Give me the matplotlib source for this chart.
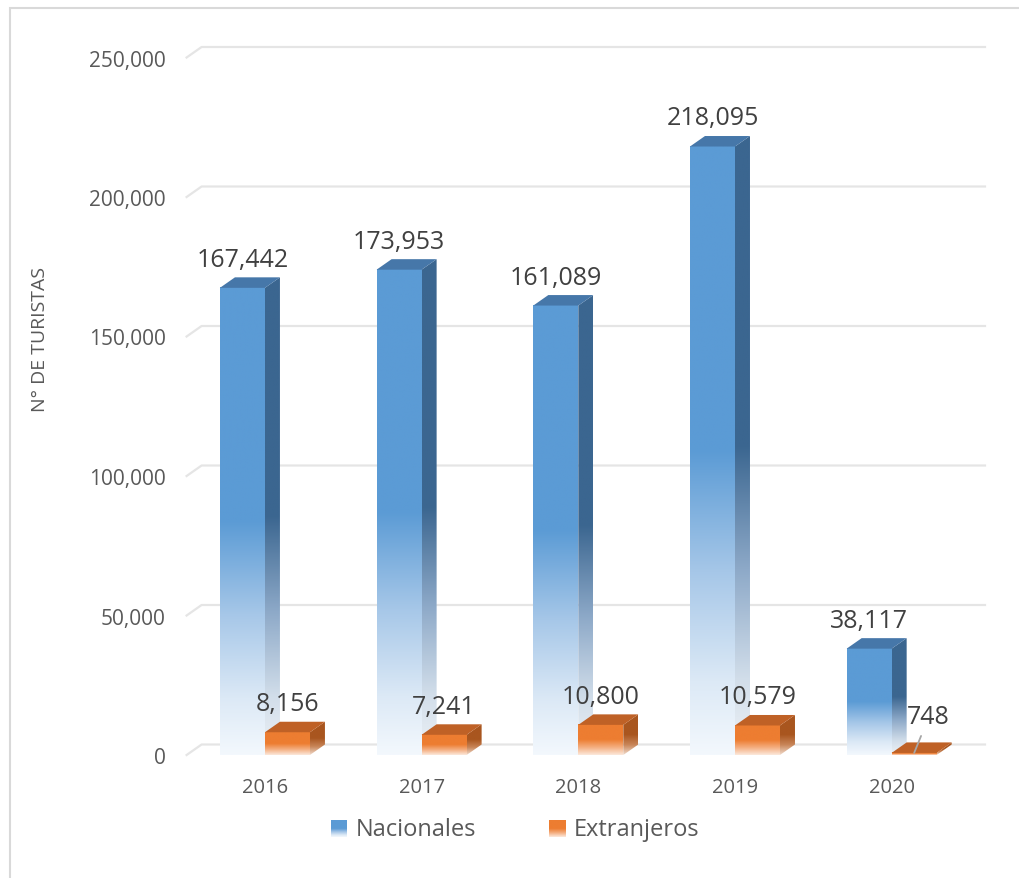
import numpy as np
import matplotlib
matplotlib.use('Agg')
import matplotlib.pyplot as plt
from matplotlib.colors import LinearSegmentedColormap
from matplotlib.patches import Polygon, Rectangle

# ---------------- data ----------------
years = ['2016', '2017', '2018', '2019', '2020']
nacionales = [167442, 173953, 161089, 218095, 38117]
extranjeros = [8156, 7241, 10800, 10579, 748]
series_names = ['Nacionales', 'Extranjeros']
y_ticks = [0, 50000, 100000, 150000, 200000, 250000]
y_label = 'N° DE TURISTAS'

plt.rcParams['font.family'] = ['Open Sans', 'DejaVu Sans']

W, H = 1020, 879
fig = plt.figure(figsize=(W / 100, H / 100), dpi=100)
ax = fig.add_axes([186.6 / W, 1 - 756 / H, (970 - 186.6) / W, (756 - 58.5) / H])
ax.set_xlim(-0.5, len(years) - 0.5)
ax.set_ylim(0, 250000)

fig.canvas.draw()
bb = ax.get_window_extent()
px_x = bb.width / (len(years))
px_y = bb.height / 250000
ddx = 15 / px_x
ddy = 10.5 / px_y
bw = 45 / px_x

def cmap_from(stops, name):
    return LinearSegmentedColormap.from_list(name, stops)

styles = [
    dict(front=cmap_from([(0, '#F3F8FD'), (0.12, '#DCE9F6'), (0.3, '#A6C7E8'),
                          (0.5, '#5B9BD5'), (1, '#5B9BD5')], 'bf'),
         side=cmap_from([(0, '#EEF2F6'), (0.12, '#D2DEEA'), (0.3, '#8DA9C8'),
                         (0.5, '#3B6690'), (1, '#3B6690')], 'bs'),
         top='#4677A9'),
    dict(front=cmap_from([(0, '#FCE9DC'), (0.25, '#F4AE80'), (0.5, '#ED7D31'),
                          (1, '#ED7D31')], 'of'),
         side=cmap_from([(0, '#F1DCCD'), (0.25, '#C88558'), (0.5, '#A9561F'),
                         (1, '#A9561F')], 'os'),
         top='#BF6126'),
]

grad = np.linspace(0, 1, 256).reshape(-1, 1)

# gridlines with perspective
for t in y_ticks:
    ax.plot([-0.5, -0.5 + ddx, len(years) - 0.5 + ddx], [t, t + ddy, t + ddy],
            color='#E5E5E5', lw=1.6, zorder=0, clip_on=False)

series = [nacionales, extranjeros]
for s, vals in enumerate(series):
    st = styles[s]
    z = 2 + s
    for i, v in enumerate(vals):
        x0 = i - bw if s == 0 else i
        x1 = x0 + bw
        # front face
        ax.imshow(grad, extent=(x0, x1, 0, v), aspect='auto', origin='lower',
                  cmap=st['front'], interpolation='bilinear', zorder=z)
        # side face
        sv = [(x1, 0), (x1 + ddx, ddy), (x1 + ddx, v + ddy), (x1, v)]
        poly = Polygon(sv, closed=True, facecolor='none', edgecolor='none',
                       transform=ax.transData)
        ax.add_patch(poly)
        im = ax.imshow(grad, extent=(x1, x1 + ddx, 0, v + ddy), aspect='auto',
                       origin='lower', cmap=st['side'], interpolation='bilinear',
                       zorder=z)
        im.set_clip_path(poly)
        # top face
        tv = [(x0, v), (x0 + ddx, v + ddy), (x1 + ddx, v + ddy), (x1, v)]
        ax.add_patch(Polygon(tv, closed=True, facecolor=st['top'],
                             edgecolor='none', zorder=z + 0.1))
        # label
        if v < 0.01 * max(nacionales):
            ax.annotate(f'{v:,}', xy=((x0 + x1) / 2, v), xytext=(10, 17),
                        textcoords='offset points', ha='center', va='bottom',
                        fontsize=18, color='#404040', zorder=10,
                        arrowprops=dict(arrowstyle='-', color='#A6A6A6', lw=1.3,
                                        shrinkA=3, shrinkB=0, relpos=(0.4, 0)))
        else:
            ax.annotate(f'{v:,}', xy=((x0 + x1) / 2, v + ddy), xytext=(0, 4),
                        textcoords='offset points', ha='center', va='bottom',
                        fontsize=18, color='#404040', zorder=10)

ax.set_xlim(-0.5, len(years) - 0.5)
ax.set_ylim(0, 250000)
ax.set_xticks(range(len(years)))
ax.set_xticklabels(years, fontsize=14.5, color='#595959')
ax.set_yticks(y_ticks)
ax.set_yticklabels([f'{t:,}' for t in y_ticks], fontsize=15, color='#595959')
ax.tick_params(axis='y', length=0, pad=15)
ax.tick_params(axis='x', length=0, pad=15.5)
for sp in ax.spines.values():
    sp.set_visible(False)
ax.patch.set_alpha(0)

fig.text(40 / W, 1 - 340 / H, y_label, rotation=90, ha='center', va='center',
         fontsize=14, color='#595959')

# legend
leg_x = [331, 549]
for k, name in enumerate(series_names):
    lax = fig.add_axes([leg_x[k] / W, 1 - 838 / H, 16 / W, 17 / H])
    lax.imshow(grad, aspect='auto', origin='lower', cmap=styles[k]['front'],
               extent=(0, 1, 0, 1))
    lax.axis('off')
    fig.text((leg_x[k] + 25) / W, 1 - 830 / H, name, ha='left', va='center',
             fontsize=17, color='#595959')

# chart border
fig.patches.append(Rectangle((10 / W, -0.1), 1.2, (1 - 9 / H) + 0.1, fill=False,
                             edgecolor='#D9D9D9', lw=1.5, transform=fig.transFigure))

fig.savefig('out.png', dpi=100)
